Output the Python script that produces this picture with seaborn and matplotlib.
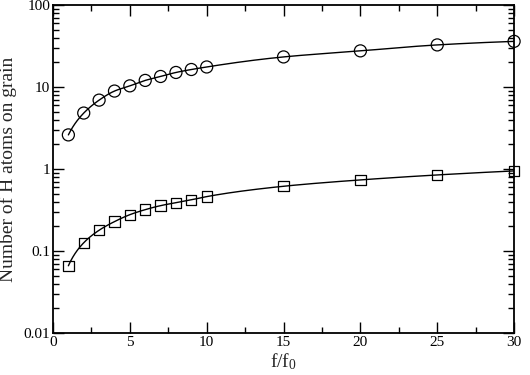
import numpy as np
import pandas as pd
import matplotlib
matplotlib.use("Agg")
import matplotlib.pyplot as plt
import seaborn as sns
from matplotlib.ticker import FixedLocator, FixedFormatter, MultipleLocator

# Data
f_ratio = [1, 2, 3, 4, 5, 6, 7, 8, 9, 10, 15, 20, 25, 30]
circles = [2.6, 4.8, 6.9, 8.9, 10.3, 12.0, 13.4, 15.0, 16.3, 17.5, 23.2, 27.5, 32.5, 35.9]
squares = [0.066, 0.126, 0.179, 0.228, 0.277, 0.319, 0.357, 0.388, 0.42, 0.46, 0.615, 0.735, 0.845, 0.946]
y_ticks = [0.01, 0.1, 1, 10, 100]
y_tick_labels = ["0.01", "0.1", "1", "10", "100"]
x_ticks = [0, 5, 10, 15, 20, 25, 30]


def pchip(x, y, xn):
    x = np.asarray(x, float); y = np.asarray(y, float)
    h = np.diff(x); d = np.diff(y) / h
    n = len(x); m = np.zeros(n)
    for k in range(1, n - 1):
        if d[k - 1] * d[k] > 0:
            w1 = 2 * h[k] + h[k - 1]; w2 = h[k] + 2 * h[k - 1]
            m[k] = (w1 + w2) / (w1 / d[k - 1] + w2 / d[k])
    m[0] = ((2 * h[0] + h[1]) * d[0] - h[0] * d[1]) / (h[0] + h[1])
    if np.sign(m[0]) != np.sign(d[0]): m[0] = 0
    m[-1] = ((2 * h[-1] + h[-2]) * d[-1] - h[-1] * d[-2]) / (h[-1] + h[-2])
    if np.sign(m[-1]) != np.sign(d[-1]): m[-1] = 0
    idx = np.clip(np.searchsorted(x, xn) - 1, 0, n - 2)
    t = (xn - x[idx]) / h[idx]
    h00 = 2 * t**3 - 3 * t**2 + 1; h10 = t**3 - 2 * t**2 + t
    h01 = -2 * t**3 + 3 * t**2; h11 = t**3 - t**2
    return h00 * y[idx] + h10 * h[idx] * m[idx] + h01 * y[idx + 1] + h11 * h[idx] * m[idx + 1]


sns.set_style("ticks")
plt.rcParams["font.family"] = ["Liberation Serif", "DejaVu Serif"]
plt.rcParams["mathtext.fontset"] = "custom"
plt.rcParams["mathtext.rm"] = "Liberation Serif"
plt.rcParams["mathtext.it"] = "Liberation Serif"

fig = plt.figure(figsize=(5.3, 3.75), dpi=100)
ax = fig.add_axes([0.1, 0.112, 0.87, 0.875])

xs = np.linspace(1, 30, 400)
for series in (circles, squares):
    lx = np.log10(xs)
    ly = pchip(np.log10(f_ratio), np.log10(series), lx)
    sns.lineplot(x=xs, y=10**ly, ax=ax, color="black", linewidth=1.0, sort=False)

df_c = pd.DataFrame({"x": f_ratio, "y": circles})
df_s = pd.DataFrame({"x": f_ratio, "y": squares})
sns.scatterplot(data=df_c, x="x", y="y", ax=ax, marker="o", s=75,
                facecolor="none", edgecolor="black", linewidth=0.9, zorder=3, clip_on=False)
sns.scatterplot(data=df_s, x="x", y="y", ax=ax, marker="s", s=55,
                facecolor="none", edgecolor="black", linewidth=0.9, zorder=3, clip_on=False)

ax.set_yscale("log")
ax.set_xlim(0, 30)
ax.set_ylim(0.01, 100)
ax.xaxis.set_major_locator(FixedLocator(x_ticks))
ax.xaxis.set_minor_locator(MultipleLocator(2.5))
ax.yaxis.set_major_locator(FixedLocator(y_ticks))
ax.yaxis.set_major_formatter(FixedFormatter(y_tick_labels))
ax.yaxis.set_minor_locator(matplotlib.ticker.LogLocator(base=10, subs=np.arange(2, 10)))
ax.yaxis.set_minor_formatter(matplotlib.ticker.NullFormatter())

ax.tick_params(which="both", direction="in", top=True, right=True, colors="black",
               labelsize=11, width=1.0)
ax.tick_params(which="major", length=8, pad=2)
ax.tick_params(which="minor", length=4)
for sp in ax.spines.values():
    sp.set_linewidth(1.3)
    sp.set_color("black")

ax.set_xlabel("f/f$_{0}$", fontsize=14)
ax.set_ylabel("Number of H atoms on grain", fontsize=14)
ax.yaxis.set_label_coords(-0.078, 0.5)
ax.xaxis.set_label_coords(0.5, -0.055)

fig.savefig("out.png", dpi=100)
